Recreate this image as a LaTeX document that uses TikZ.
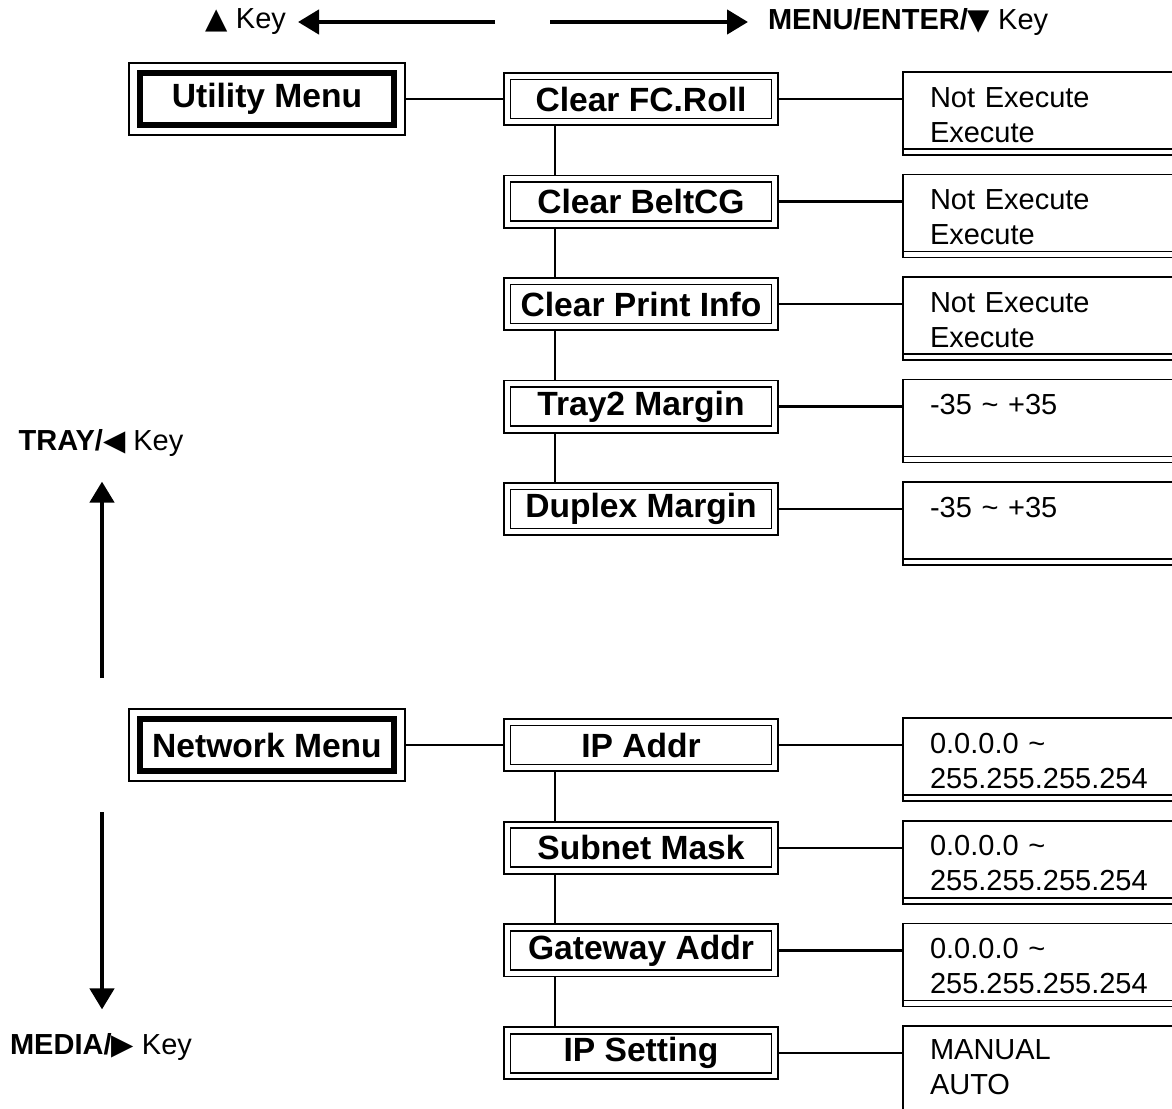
\documentclass[tikz,border=0pt]{standalone}
\usepackage{fontspec}
\setmainfont{Liberation Sans}
\newfontfamily\symfont{DejaVu Sans}
\usetikzlibrary{arrows.meta}
\newcommand\lblfont{\fontsize{16.8}{20}\selectfont\bfseries}
\newcommand\valfont{\fontsize{14.5}{17.5}\selectfont}
\newcommand\tri[1]{{\symfont #1}}
\newcommand\twolines[3][2.5pt]{\rule{0pt}{16.5pt}#2\\#3\rule[-#1]{0pt}{#1}}

\begin{document}
\begin{tikzpicture}[x=0.5pt, y=-0.5pt, >={Triangle[length=10.5pt,width=12pt]},
  menubox/.style={draw, line width=0.9pt, minimum width=138pt, minimum height=36pt, inner sep=0pt, font=\lblfont,
    path picture={\draw[line width=2.8pt] ([shift={(5.6pt,-5pt)}]path picture bounding box.north west)
      rectangle ([shift={(-5.6pt,5pt)}]path picture bounding box.south east);}},
  lblbox/.style={draw, double, line width=0.9pt, double distance=2.4pt, minimum width=133.8pt,
    minimum height=22.8pt, inner sep=0pt, outer sep=2.1pt, font=\lblfont},
  valbox/.style={draw, line width=0.9pt, anchor=north west, minimum height=38.5pt, text width=125pt,
    inner xsep=13.5pt, inner ysep=0pt, outer sep=0pt, align=left, font=\valfont},
  link/.style={line width=1.1pt},
  keyarrow/.style={->, line width=2.2pt},
  keylabel/.style={font=\valfont}]
  \useasboundingbox (0,0) rectangle (1172,1108);

  % key labels and arrows
  \node[keylabel, anchor=east] (upkey) at (293,22) {\tri{▲} Key};
  \node[keylabel, anchor=west] (menukey) at (761,22) {\textbf{MENU/ENTER/}\tri{▼} Key};
  \node[keylabel] (traykey) at (101,443) {\textbf{TRAY/}\tri{◀} Key};
  \node[keylabel] (mediakey) at (101,1047) {\textbf{MEDIA/}\tri{▶} Key};
  \coordinate (lefttail) at (495,22);
  \coordinate (righttail) at (550,22);
  \coordinate (uptail) at (102,678);
  \coordinate (downtail) at (102,812);
  \draw[keyarrow, shorten >=2.5pt] (lefttail) -- (lefttail -| upkey.east);
  \draw[keyarrow, shorten >=6.5pt] (righttail) -- (righttail -| menukey.west);
  \draw[keyarrow, shorten >=9pt] (uptail) -- (uptail |- traykey.south);
  \draw[keyarrow, shorten >=8.5pt] (downtail) -- (downtail |- mediakey.north);

  % utility menu
  \node[menubox] (util) at (267,99) {Utility Menu};
  \foreach \lbl/\val [count=\i from 0] in {Clear FC.Roll/{\twolines{Not Execute}{Execute}},
      Clear BeltCG/{\twolines{Not Execute}{Execute}}, Clear Print Info/{\twolines{Not Execute}{Execute}},
      Tray2 Margin/{\twolines{-35 \textasciitilde{} +35}{}}, Duplex Margin/{\twolines{-35 \textasciitilde{} +35}{}}} {
    \node[lblbox] (u\i) at (641,{99+102.5*\i}) {\lbl};
    \node[valbox] (uv\i) at (903,{72+102.5*\i}) {\val};
    \draw[link] (u\i.east) -- (u\i.east -| uv\i.west);
    \draw[line width=0.9pt] (uv\i.south west) -- ++(0,6) -- ++(320,0);
  }
  \draw[link] (util.east) -- (u0.west);
  \foreach \i [evaluate=\i as \j using int(\i+1)] in {0,...,3}
    \draw[link] ([xshift=26pt]u\i.south west) -- ([xshift=26pt]u\j.north west);

  % network menu
  \node[menubox] (net) at (267,745) {Network Menu};
  \foreach \lbl/\val [count=\i from 0] in {IP Addr/{\twolines{0.0.0.0 \textasciitilde}{255.255.255.254}},
      Subnet Mask/{\twolines{0.0.0.0 \textasciitilde}{255.255.255.254}},
      Gateway Addr/{\twolines{0.0.0.0 \textasciitilde}{255.255.255.254}},
      IP Setting/{\twolines[9pt]{MANUAL}{AUTO}}} {
    \node[lblbox] (n\i) at (641,{745+102.7*\i}) {\lbl};
    \node[valbox] (nv\i) at (903,{718+102.7*\i}) {\val};
    \draw[link] (n\i.east) -- (n\i.east -| nv\i.west);
    \draw[line width=0.9pt] (nv\i.south west) -- ++(0,6) -- ++(320,0);
  }
  \draw[link] (net.east) -- (n0.west);
  \foreach \i [evaluate=\i as \j using int(\i+1)] in {0,...,2}
    \draw[link] ([xshift=26pt]n\i.south west) -- ([xshift=26pt]n\j.north west);
\end{tikzpicture}
\end{document}
